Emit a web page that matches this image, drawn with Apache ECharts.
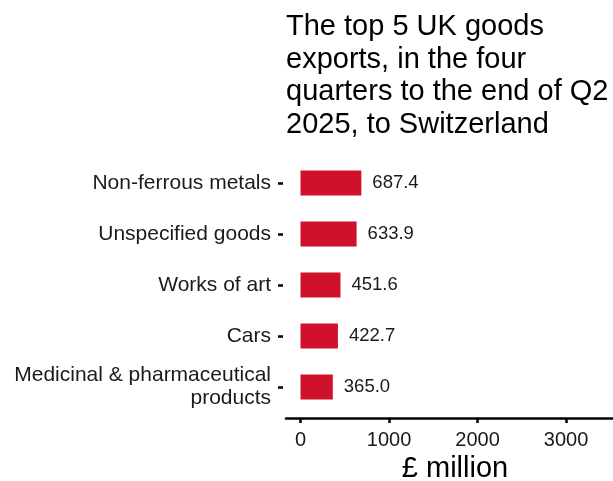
<!DOCTYPE html>
<html>
<head>
<meta charset="utf-8">
<script src="https://cdn.jsdelivr.net/npm/echarts@6/dist/echarts.min.js"></script>
<style>
html,body{margin:0;padding:0;background:#fff;}
#c{width:613px;height:481px;}
</style>
</head>
<body>
<div id="c"></div>
<script>
const categories = ["Non-ferrous metals", "Unspecified goods", "Works of art", "Cars", "Medicinal & pharmaceutical\nproducts"];
const values = [687.4, 633.9, 451.6, 422.7, 365.0];
const xTicks = [0, 1000, 2000, 3000];
const titleText = "The top 5 UK goods\nexports, in the four\nquarters to the end of Q2\n2025, to Switzerland";

const FONT = "Liberation Sans, Arial, Helvetica, sans-serif";
const chart = echarts.init(document.getElementById('c'), null, {renderer: 'canvas'});
chart.setOption({
  animation: false,
  backgroundColor: '#ffffff',
  title: {
    text: titleText,
    left: 286,
    top: 11,
    padding: 0,
    textStyle: {fontFamily: FONT, fontSize: 29, fontWeight: 'normal', color: '#000', lineHeight: 32.5}
  },
  grid: {left: 286, right: 0, top: 157.5, bottom: 68.5, containLabel: false, outerBoundsMode: 'none'},
  xAxis: {
    type: 'value',
    min: -164,
    max: 3531,
    offset: 5.5,
    splitLine: {show: false},
    axisLine: {show: true, onZero: false, lineStyle: {color: '#000', width: 2.5}},
    axisTick: {show: true, length: 5, lineStyle: {color: '#000', width: 2.5}, customValues: xTicks},
    axisLabel: {fontFamily: FONT, fontSize: 20, color: '#1a1a1a', margin: 12, customValues: xTicks, formatter: v => String(v)},
    name: '£ million',
    nameLocation: 'middle',
    nameGap: 34,
    nameTextStyle: {fontFamily: FONT, fontSize: 29, color: '#000', padding: [0, 0, 0, 11]}
  },
  yAxis: {
    type: 'category',
    data: categories,
    inverse: true,
    offset: 3,
    axisLine: {show: false, onZero: false},
    axisTick: {show: true, alignWithLabel: true, length: 5, lineStyle: {color: '#000', width: 2.5}},
    axisLabel: {fontFamily: FONT, fontSize: 21, color: '#1a1a1a', margin: 12, lineHeight: 23, align: 'right', padding: [3, 0, 0, 0]},
    splitLine: {show: false}
  },
  series: [{
    type: 'bar',
    data: values,
    barWidth: 25,
    itemStyle: {color: '#d0112b'},
    label: {
      show: true,
      position: 'right',
      distance: 11,
      formatter: p => p.value.toFixed(1),
      fontFamily: FONT,
      fontSize: 18.5,
      color: '#1a1a1a'
    }
  }]
});
</script>
</body>
</html>
